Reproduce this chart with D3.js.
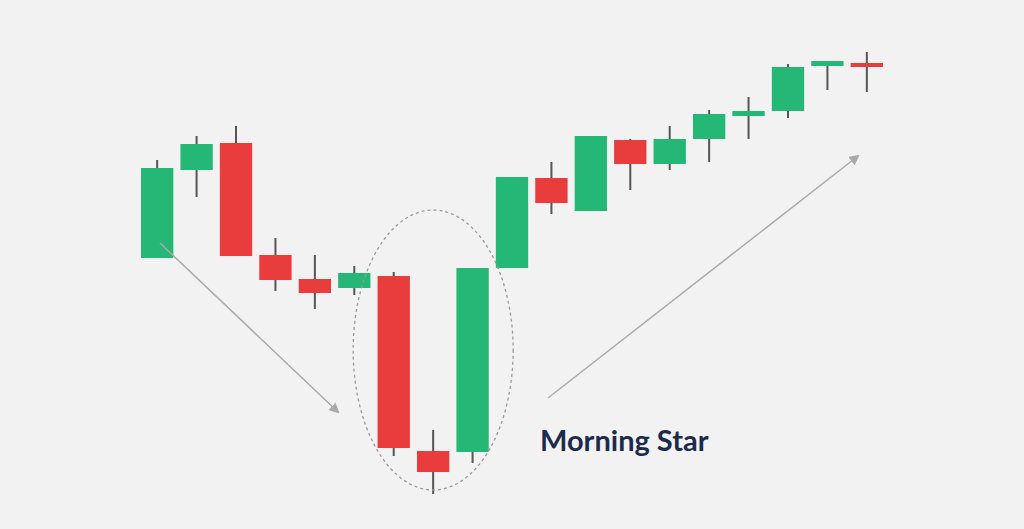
<!DOCTYPE html>
<html><head><meta charset="utf-8">
<script src="https://cdn.jsdelivr.net/npm/d3@7"></script>
<style>body{margin:0;background:#f2f2f2;overflow:hidden}</style>
</head><body>
<svg id="chart" width="1024" height="529"></svg>
<script>
// price units
const opens  = [27.1, 35.9, 38.6, 27.4, 25.0, 24.1, 25.3, 7.8, 7.7, 26.1, 35.1, 31.8, 38.9, 36.5, 39.0, 41.3, 41.8, 46.3, 46.6];
const closes = [36.1, 38.5, 27.3, 24.9, 23.6, 25.6, 8.1, 5.7, 26.1, 35.2, 32.6, 39.3, 36.5, 39.0, 41.5, 41.8, 46.2, 46.8, 46.2];
const highs  = [36.9, 39.3, 40.3, 29.1, 27.4, 26.3, 25.7, 9.9, 26.1, 35.2, 36.7, 39.3, 39.0, 40.3, 41.9, 43.2, 46.5, 46.8, 47.7];
const lows   = [27.1, 33.2, 27.3, 23.8, 22.0, 23.4, 7.3, 3.5, 6.6, 26.1, 31.5, 31.8, 33.9, 35.9, 36.7, 39.0, 41.1, 43.9, 43.7];

const svg = d3.select("#chart");
const x = d3.scaleBand().domain(d3.range(opens.length)).range([141, 883]).paddingInner(0.18);
const y = d3.scaleLinear().domain([0, 52.9]).range([529, 0]);
const green = "#25b776", red = "#e93c3c";

const g = svg.append("g");
opens.forEach((o, i) => {
  const c = closes[i], cx = x(i) + x.bandwidth() / 2;
  g.append("line").attr("x1", cx).attr("x2", cx)
    .attr("y1", y(highs[i])).attr("y2", y(lows[i]))
    .attr("stroke", "#555").attr("stroke-width", 2);
  g.append("rect").attr("x", x(i)).attr("width", x.bandwidth())
    .attr("y", y(Math.max(o, c))).attr("height", Math.max(3, Math.abs(y(o) - y(c))))
    .attr("fill", c >= o ? green : red);
});

// dashed ellipse around the pattern
svg.append("ellipse").attr("cx", x(7) + x.bandwidth() / 2).attr("cy", 350)
  .attr("rx", 80).attr("ry", 140).attr("fill", "none")
  .attr("stroke", "#999").attr("stroke-width", 1.3).attr("stroke-dasharray", "3,3");

svg.append("defs").append("marker").attr("id", "ah").attr("viewBox", "0 0 10 10")
  .attr("refX", 8).attr("refY", 5).attr("markerWidth", 7).attr("markerHeight", 7)
  .attr("orient", "auto").append("path").attr("d", "M0,0L10,5L0,10z").attr("fill", "#aaa");
[[160, 243, 338, 412], [548, 398, 858, 156]].forEach(a => {
  svg.append("line").attr("x1", a[0]).attr("y1", a[1]).attr("x2", a[2]).attr("y2", a[3])
    .attr("stroke", "#aaa").attr("stroke-width", 1.5).attr("marker-end", "url(#ah)");
});

svg.append("text").attr("x", 540).attr("y", 451).text("Morning Star")
  .attr("font-family", "Lato, 'Open Sans', sans-serif").attr("font-weight", "bold")
  .attr("font-size", 29).attr("fill", "#1b2b4d");
</script>
</body></html>
